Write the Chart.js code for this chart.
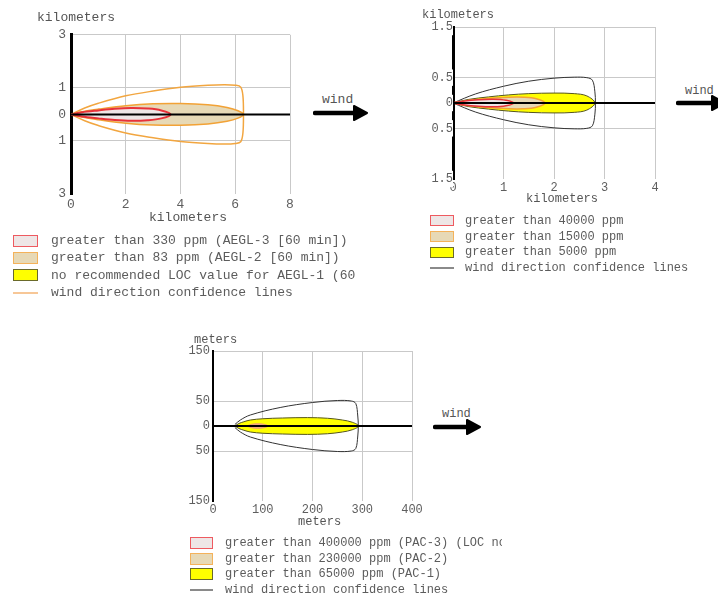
<!DOCTYPE html>
<html>
<head>
<meta charset="utf-8">
<script src="https://cdn.jsdelivr.net/npm/chart.js@4.4.0/dist/chart.umd.min.js"></script>
<style>
  html, body { margin: 0; padding: 0; background: #fff; }
  body { width: 718px; height: 594px; position: relative; overflow: hidden;
         font-family: "Liberation Mono", "Courier New", monospace; color: #5c5c5c; }
  canvas, .txt, .legend, svg { position: absolute; }
  .txt { white-space: nowrap; color: #555; }
  .legend { overflow: hidden; white-space: nowrap; }
  .legend .row { display: flex; align-items: center; }
  .legend .sw { box-sizing: border-box; flex: none; }
</style>
</head>
<body>

<canvas id="c1" width="310" height="200" style="left:0;top:22px"></canvas>
<canvas id="c2" width="265" height="182" style="left:410px;top:15px"></canvas>
<canvas id="c3" width="252" height="176" style="left:180px;top:340px"></canvas>

<div class="txt" style="left:37px;top:10px;font-size:13px;line-height:16px">kilometers</div>
<div class="txt" style="left:149px;top:210px;font-size:13px;line-height:16px">kilometers</div>
<div class="txt" style="left:422px;top:8px;font-size:12px;line-height:14px">kilometers</div>
<div class="txt" style="left:526px;top:192px;font-size:12px;line-height:14px">kilometers</div>
<div class="txt" style="left:194px;top:333px;font-size:12px;line-height:14px">meters</div>
<div class="txt" style="left:298px;top:515px;font-size:12px;line-height:14px">meters</div>

<div class="txt" style="left:322px;top:92px;font-size:13px;line-height:16px">wind</div>
<div class="txt" style="left:685px;top:84px;font-size:12px;line-height:14px">wind</div>
<div class="txt" style="left:442px;top:407px;font-size:12px;line-height:14px">wind</div>

<div id="lg1" class="legend" style="left:13px;top:232px;width:344px;height:70px;font-size:13px"></div>
<div id="lg2" class="legend" style="left:430px;top:213px;width:288px;height:64px;font-size:12px"></div>
<div id="lg3" class="legend" style="left:190px;top:535px;width:312px;height:64px;font-size:12px"></div>

<script>
// ---- chart 1 (kilometers) ----
const c1XTicks = [0, 2, 4, 6, 8];
const c1XLabels = ['0', '2', '4', '6', '8'];
const c1YTicks = [-3, -1, 0, 1, 3];
const c1YLabels = ['3', '1', '0', '1', '3'];
const c1RedX = [0, 0.4, 1, 1.6, 2.2, 2.8, 3.3, 3.64];
const c1RedW = [0, 0.08, 0.15, 0.21, 0.24, 0.22, 0.15, 0];
const c1TanX = [0, 0.5, 1, 2, 3, 4, 5, 5.7, 6.1, 6.3];
const c1TanW = [0, 0.12, 0.2, 0.33, 0.4, 0.41, 0.36, 0.26, 0.14, 0];
const c1ConfX = [0, 0.5, 1, 2, 3, 4, 5, 5.6, 6.0, 6.2, 6.28, 6.3];
const c1ConfW = [0, 0.24, 0.42, 0.7, 0.88, 1.02, 1.1, 1.12, 1.1, 1.03, 0.7, 0];
const c1Legend = [
    'greater than 330 ppm (AEGL-3 [60 min])',
    'greater than 83 ppm (AEGL-2 [60 min])',
    'no recommended LOC value for AEGL-1 (60 min)',
    'wind direction confidence lines'
];

// ---- chart 2 (kilometers) ----
const c2XTicks = [0, 1, 2, 3, 4];
const c2XLabels = ['0', '1', '2', '3', '4'];
const c2YTicks = [-1.5, -0.5, 0, 0.5, 1.5];
const c2YLabels = ['1.5', '0.5', '0', '0.5', '1.5'];
const c2RedX = [0, 0.2, 0.5, 0.8, 1.05, 1.2];
const c2RedW = [0, 0.035, 0.065, 0.075, 0.055, 0];
const c2TanX = [0, 0.3, 0.7, 1.1, 1.4, 1.65, 1.82];
const c2TanW = [0, 0.05, 0.09, 0.115, 0.115, 0.085, 0];
const c2YelX = [0, 0.3, 0.7, 1.1, 1.5, 2, 2.4, 2.65, 2.81];
const c2YelW = [0, 0.07, 0.12, 0.16, 0.185, 0.196, 0.185, 0.14, 0];
const c2ConfX = [0, 0.45, 1, 1.5, 2, 2.4, 2.65, 2.76, 2.81, 2.82];
const c2ConfW = [0, 0.18, 0.33, 0.43, 0.49, 0.51, 0.5, 0.45, 0.22, 0];
const c2Legend = [
    'greater than 40000 ppm',
    'greater than 15000 ppm',
    'greater than 5000 ppm',
    'wind direction confidence lines'
];

// ---- chart 3 (meters) ----
const c3XTicks = [0, 100, 200, 300, 400];
const c3XLabels = ['0', '100', '200', '300', '400'];
const c3YTicks = [-150, -50, 0, 50, 150];
const c3YLabels = ['150', '50', '0', '50', '150'];
const c3TanX = [68, 78, 90, 102, 111];
const c3TanW = [0, 3.5, 4.5, 3.5, 0];
const c3YelX = [44, 52, 62, 75, 100, 140, 190, 230, 260, 280, 293];
const c3YelW = [0, 5, 8.5, 12, 14.5, 16, 16.8, 15.5, 12, 7.5, 0];
const c3ConfX = [44, 55, 75, 135, 200, 250, 278, 287, 291, 292];
const c3ConfW = [3, 12, 22, 37, 47, 51, 50, 45, 20, 0];
const c3Legend = [
    'greater than 400000 ppm (PAC-3) (LOC not exceeded)',
    'greater than 230000 ppm (PAC-2)',
    'greater than 65000 ppm (PAC-1)',
    'wind direction confidence lines'
];

const GRID = '#c9c9c9';
const TICK = '#5e5e5e';
const MONO = '"Liberation Mono", "Courier New", monospace';

const RED = { fill: '#eee6e6', line: '#e8323a' };
const TAN = { fill: '#e7d9b6', line: '#f2a236' };
const YEL = { fill: '#ffff00', line: '#55551e' };

// top edge downwind, then bottom edge back upwind
function outline(xs, ws) {
    const pts = xs.map((x, i) => ({ x: x, y: ws[i] }));
    for (let i = xs.length - 2; i >= 0; i--) pts.push({ x: xs[i], y: -ws[i] });
    return pts;
}

function zone(xs, ws, col, width, order) {
    return {
        data: outline(xs, ws), showLine: true, fill: 'shape',
        backgroundColor: col.fill, borderColor: col.line, borderWidth: width, order: order
    };
}

function conf(xs, ws, color, width) {
    return {
        data: outline(xs, ws), showLine: true, fill: false,
        borderColor: color, borderWidth: width, order: 10
    };
}

function centre(xTicks) {
    return {
        data: [{ x: xTicks[0], y: 0 }, { x: xTicks[xTicks.length - 1], y: 0 }],
        showLine: true, fill: false, borderColor: '#000', borderWidth: 2, tension: 0, order: 0
    };
}

function plume(id, o) {
    const yMin = o.yTicks[0];
    return new Chart(document.getElementById(id), {
        type: 'scatter',
        data: { datasets: o.datasets },
        options: {
            responsive: false,
            animation: false,
            layout: { padding: o.pad },
            plugins: { legend: { display: false }, tooltip: { enabled: false } },
            elements: {
                point: { radius: 0, hoverRadius: 0 },
                line: { tension: 0.35, borderJoinStyle: 'round', capBezierPoints: true }
            },
            scales: {
                x: {
                    type: 'linear',
                    min: o.xTicks[0], max: o.xTicks[o.xTicks.length - 1],
                    afterBuildTicks: s => { s.ticks = o.xTicks.map(v => ({ value: v })); },
                    afterFit: s => { s.height = o.xH; },
                    border: { display: false },
                    grid: {
                        drawTicks: false,
                        color: c => (c.tick && c.tick.value === o.xTicks[0]) ? 'rgba(0,0,0,0)' : GRID
                    },
                    ticks: {
                        autoSkip: false, maxRotation: 0, padding: o.xPad, color: TICK,
                        font: { family: MONO, size: o.font },
                        callback: (v, i) => o.xLabels[i]
                    }
                },
                y: {
                    type: 'linear',
                    min: yMin, max: o.yTicks[o.yTicks.length - 1],
                    afterBuildTicks: s => { s.ticks = o.yTicks.map(v => ({ value: v })); },
                    afterFit: s => { s.width = o.yW; },
                    border: { display: true, color: '#000', width: o.axisW },
                    grid: {
                        drawTicks: false,
                        color: c => (c.tick && c.tick.value === yMin) ? 'rgba(0,0,0,0)' : GRID
                    },
                    ticks: {
                        autoSkip: false, padding: o.yPad, color: TICK,
                        font: { family: MONO, size: o.font },
                        showLabelBackdrop: !!o.backdrop,
                        backdropColor: '#fff',
                        backdropPadding: { top: 1, bottom: 1, left: 1, right: 4 },
                        callback: (v, i) => o.yLabels[i]
                    }
                }
            }
        }
    });
}

plume('c1', {
    pad: { top: 10, right: 20, bottom: 0, left: 0 }, yW: 71, xH: 28, xPad: 3, yPad: 5,
    font: 13, axisW: 3,
    xTicks: c1XTicks, xLabels: c1XLabels, yTicks: c1YTicks, yLabels: c1YLabels,
    datasets: [
        centre(c1XTicks),
        zone(c1RedX, c1RedW, RED, 2, 1),
        zone(c1TanX, c1TanW, TAN, 1.5, 2),
        conf(c1ConfX, c1ConfW, '#f2a640', 1.5)
    ]
});

plume('c2', {
    pad: { top: 12, right: 20, bottom: 0, left: 0 }, yW: 43, xH: 18, xPad: 2, yPad: 0,
    font: 12, axisW: 3, backdrop: true,
    xTicks: c2XTicks, xLabels: c2XLabels, yTicks: c2YTicks, yLabels: c2YLabels,
    datasets: [
        centre(c2XTicks),
        zone(c2RedX, c2RedW, RED, 1.5, 1),
        zone(c2TanX, c2TanW, TAN, 1.5, 2),
        zone(c2YelX, c2YelW, YEL, 1, 3),
        conf(c2ConfX, c2ConfW, '#333', 1)
    ]
});

plume('c3', {
    pad: { top: 11, right: 20, bottom: 0, left: 0 }, yW: 33, xH: 15, xPad: 2, yPad: 3,
    font: 12, axisW: 2,
    xTicks: c3XTicks, xLabels: c3XLabels, yTicks: c3YTicks, yLabels: c3YLabels,
    datasets: [
        centre(c3XTicks),
        zone(c3TanX, c3TanW, { fill: '#f2b088', line: '#f09a70' }, 1, 2),
        zone(c3YelX, c3YelW, YEL, 1, 3),
        conf(c3ConfX, c3ConfW, '#333', 1)
    ]
});

// legends
function legend(id, labels, rowH, swW, swH, gap, lineColor) {
    const el = document.getElementById(id);
    const swatches = [RED, TAN, YEL];
    labels.forEach((t, i) => {
        const row = document.createElement('div');
        row.className = 'row';
        row.style.height = rowH + 'px';
        const sw = document.createElement('div');
        sw.className = 'sw';
        sw.style.width = swW + 'px';
        if (i < 3) {
            sw.style.height = swH + 'px';
            sw.style.background = swatches[i].fill;
            sw.style.border = '1.5px solid ' + (i === 0 ? '#ee5a60' : i === 1 ? '#f4b25a' : '#6a6a2a');
        } else {
            sw.style.height = '2px';
            sw.style.background = lineColor;
        }
        const span = document.createElement('span');
        span.textContent = t;
        span.style.marginLeft = gap + 'px';
        row.appendChild(sw);
        row.appendChild(span);
        el.appendChild(row);
    });
}
legend('lg1', c1Legend, 17.3, 25, 12, 13, '#f7c797');
legend('lg2', c2Legend, 15.7, 24, 11, 11, '#8a8a8a');
legend('lg3', c3Legend, 15.7, 23, 12, 12, '#8a8a8a');

// wind arrows
function arrow(x, y, len) {
    const ns = 'http://www.w3.org/2000/svg';
    const svg = document.createElementNS(ns, 'svg');
    svg.setAttribute('width', len + 16);
    svg.setAttribute('height', 20);
    svg.style.left = x + 'px';
    svg.style.top = (y - 10) + 'px';
    svg.innerHTML =
        '<line x1="2" y1="10" x2="' + (len - 2) + '" y2="10" stroke="#000" stroke-width="4.5" stroke-linecap="round"/>' +
        '<path d="M' + (len - 4) + ' 3 L' + (len + 9) + ' 10 L' + (len - 4) + ' 17 Z" fill="#000" stroke="#000" stroke-width="2" stroke-linejoin="round"/>';
    document.body.appendChild(svg);
}
arrow(313, 113, 45);
arrow(676, 103, 40);
arrow(433, 427, 38);
</script>
</body>
</html>
